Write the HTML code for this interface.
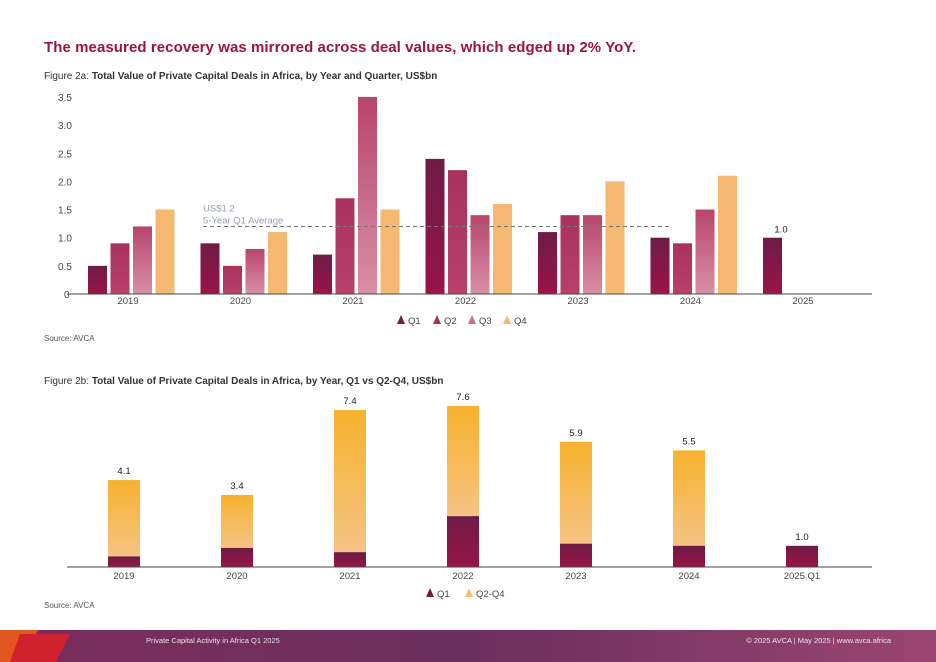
<!DOCTYPE html>
<html><head><meta charset="utf-8"><style>
html,body{margin:0;padding:0;background:#fff;}
body{width:936px;height:662px;overflow:hidden;position:relative;font-family:"Liberation Sans",sans-serif;}
svg{position:absolute;left:0;top:0;}
</style></head><body>
<svg id="c" width="936" height="662">
<defs>
<linearGradient id="gq1" x1="0" y1="0" x2="0" y2="1"><stop offset="0" stop-color="#6d1c44"/><stop offset="1" stop-color="#9a1449"/></linearGradient>
<linearGradient id="gq2" x1="0" y1="0" x2="0" y2="1"><stop offset="0" stop-color="#a8325e"/><stop offset="1" stop-color="#b8406a"/></linearGradient>
<linearGradient id="gq3" x1="0" y1="0" x2="0" y2="1"><stop offset="0" stop-color="#b8446e"/><stop offset="1" stop-color="#d890a6"/></linearGradient>
<linearGradient id="gq24" x1="0" y1="0" x2="0" y2="1"><stop offset="0" stop-color="#f8b22e"/><stop offset="1" stop-color="#f5c384"/></linearGradient>
<linearGradient id="gfoot" x1="0" y1="0" x2="1" y2="0"><stop offset="0" stop-color="#7a2d5c"/><stop offset="0.5" stop-color="#6b2e5e"/><stop offset="1" stop-color="#9a4670"/></linearGradient>
</defs>
<text x="44" y="52" font-size="15" font-weight="bold" fill="#9b1446" textLength="592">The measured recovery was mirrored across deal values, which edged up 2% YoY.</text>
<text x="44" y="79" font-size="10" fill="#333">Figure 2a: <tspan font-weight="bold">Total Value of Private Capital Deals in Africa, by Year and Quarter, US$bn</tspan></text>
<g id="ca"></g>
<text x="44" y="341" font-size="8" fill="#555">Source: AVCA</text>
<text x="44" y="384" font-size="10" fill="#333">Figure 2b: <tspan font-weight="bold">Total Value of Private Capital Deals in Africa, by Year, Q1 vs Q2-Q4, US$bn</tspan></text>
<g id="cb"></g>
<text x="44" y="608" font-size="8" fill="#555">Source: AVCA</text>
<rect x="0" y="630" width="936" height="32" fill="url(#gfoot)"/>
<polygon points="0,630 0,662 20,662 38,630" fill="#e0561e"/>
<polygon points="20,634 70,634 56,662 10,662" fill="#d0222e"/>
<text x="146" y="643" font-size="7.5" fill="#f0e0ea">Private Capital Activity in Africa Q1 2025</text>
<text x="891" y="643" font-size="7.5" fill="#f0e0ea" text-anchor="end">© 2025 AVCA  |  May 2025  |  www.avca.africa</text>
</svg>
<script>
var NS="http://www.w3.org/2000/svg";
var years=["2019","2020","2021","2022","2023","2024","2025"];
var q1=[0.5,0.9,0.7,2.4,1.1,1.0,1.0];
var q2=[0.9,0.5,1.7,2.2,1.4,0.9,null];
var q3=[1.2,0.8,3.5,1.4,1.4,1.5,null];
var q4=[1.5,1.1,1.5,1.6,2.0,2.1,null];
var yTicks=[0,0.5,1.0,1.5,2.0,2.5,3.0,3.5];
var q1Avg=1.2;
var yearsB=["2019","2020","2021","2022","2023","2024","2025 Q1"];
var totals=[4.1,3.4,7.4,7.6,5.9,5.5,1.0];
var q1b=[0.5,0.9,0.7,2.4,1.1,1.0,1.0];

function mk(p,tag,at,txt){var e=document.createElementNS(NS,tag);for(var k in at)e.setAttribute(k,at[k]);if(txt!=null)e.textContent=txt;p.appendChild(e);return e;}
// chart A
var A=document.getElementById("ca");
var yA=function(v){return 294-v*56.3;};
var gxA=function(i){return 131+i*112.5;};
for(var t=0;t<yTicks.length;t++){
  var tl=mk(A,"text",{x:58,y:yA(yTicks[t])+4,"font-size":10,fill:"#444","text-anchor":"start"},yTicks[t]===0?"0":yTicks[t].toFixed(1));
  
  
  tl.setAttribute('x',yTicks[t]===0?64:58);
}
var series=[q1,q2,q3,q4], fills=["url(#gq1)","url(#gq2)","url(#gq3)","#f5b870"], sn=["q1","q2","q3","q4"];
for(var i=0;i<years.length;i++){
  for(var s=0;s<4;s++){
    var v=series[s][i]; if(v==null)continue;
    var b=mk(A,"rect",{x:gxA(i)-43+s*22.5,y:yA(v),width:19,height:yA(0)-yA(v),fill:fills[s]});
    
    
  }
  var xl=mk(A,"text",{x:gxA(i)-3,y:304,"font-size":9.5,fill:"#444","text-anchor":"middle"},years[i]);
  
  
}
var lab=mk(A,"text",{x:gxA(6)-25,y:yA(q1[6])-5,"font-size":9.5,fill:"#222","text-anchor":"middle"},q1[6].toFixed(1));


var ax=mk(A,"line",{x1:67,x2:872,y1:yA(0),y2:yA(0),stroke:"#444","stroke-width":1});


var av=mk(A,"line",{x1:203,x2:672,y1:yA(q1Avg),y2:yA(q1Avg),stroke:"#777","stroke-width":1,"stroke-dasharray":"4,3"});


var at=mk(A,"text",{x:203,y:yA(q1Avg)-15,"font-size":9.5,fill:"#9aa0b0"},"US$1.2");


var at2=mk(A,"text",{x:203,y:yA(q1Avg)-3,"font-size":9.5,fill:"#9aa0b0"},"5-Year Q1 Average");


var lx=[397,433,468,503], ln=["Q1","Q2","Q3","Q4"], lc=["#7a1a46","#a8325e","#c9708e","#f5b870"];
for(var k=0;k<4;k++){
  var g=mk(A,"g",{});
  
  
  mk(g,"polygon",{points:(lx[k])+","+324+" "+(lx[k]+8)+","+324+" "+(lx[k]+4)+","+315,fill:lc[k]});
  mk(g,"text",{x:lx[k]+11,y:324,"font-size":9.5,fill:"#444"},ln[k]);
}
// chart B
var B=document.getElementById("cb");
var yB=function(v){return 567-v*21.2;};
var gxB=function(i){return 124+i*113;};
for(var i=0;i<yearsB.length;i++){
  if(totals[i]>q1b[i]){
    var r=mk(B,"rect",{x:gxB(i)-16,y:yB(totals[i]),width:32,height:yB(q1b[i])-yB(totals[i]),fill:"url(#gq24)"});
    
    
  }
  var r2=mk(B,"rect",{x:gxB(i)-16,y:yB(q1b[i]),width:32,height:yB(0)-yB(q1b[i]),fill:"url(#gq1)"});
  
  
  var tv=mk(B,"text",{x:gxB(i),y:yB(totals[i])-6,"font-size":9.5,fill:"#222","text-anchor":"middle"},totals[i].toFixed(1));
  
  
  var xb=mk(B,"text",{x:gxB(i),y:579,"font-size":9.5,fill:"#444","text-anchor":"middle"},yearsB[i]);
  
  
}
var axb=mk(B,"line",{x1:67,x2:872,y1:567,y2:567,stroke:"#444","stroke-width":1});


var lb=[[426,"Q1","#7a1a46"],[465,"Q2-Q4","#f5be6e"]];
for(var k=0;k<2;k++){
  var g=mk(B,"g",{});
  
  
  mk(g,"polygon",{points:lb[k][0]+",597 "+(lb[k][0]+8)+",597 "+(lb[k][0]+4)+",588",fill:lb[k][2]});
  mk(g,"text",{x:lb[k][0]+11,y:597,"font-size":9.5,fill:"#444"},lb[k][1]);
}
</script>
</body></html>
